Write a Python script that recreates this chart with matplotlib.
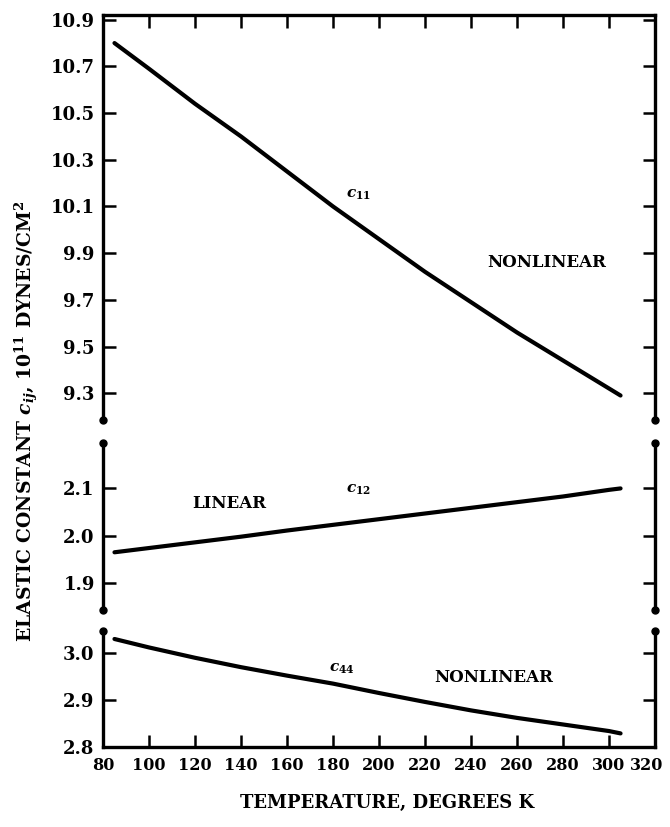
import numpy as np
import matplotlib
matplotlib.use("Agg")
from matplotlib import pyplot as plt
from matplotlib import transforms

plt.rcParams['font.family'] = ['DejaVu Serif']
plt.rcParams['font.weight'] = 'bold'
plt.rcParams['mathtext.fontset'] = 'dejavuserif'

# temperature (K) and elastic constants (10^11 dynes/cm^2)
temp = [85, 100, 120, 140, 160, 180, 200, 220, 240, 260, 280, 300, 305]
c11 = [10.80, 10.69, 10.54, 10.40, 10.25, 10.10, 9.96, 9.82, 9.69, 9.56, 9.44, 9.32, 9.29]
c12 = [1.965, 1.974, 1.986, 1.998, 2.011, 2.023, 2.035, 2.047, 2.059, 2.071, 2.083, 2.097, 2.100]
c44 = [3.030, 3.012, 2.990, 2.970, 2.952, 2.935, 2.915, 2.896, 2.878, 2.862, 2.848, 2.834, 2.829]

xticks = [80, 100, 120, 140, 160, 180, 200, 220, 240, 260, 280, 300, 320]
yticks_top = [9.3, 9.5, 9.7, 9.9, 10.1, 10.3, 10.5, 10.7, 10.9]
yticks_mid = [1.9, 2.0, 2.1]
yticks_bot = [2.8, 2.9, 3.0]

fig = plt.figure(figsize=(6.7, 8.27), dpi=100)
ax1 = fig.add_axes([0.1537, 0.4921, 0.824, 0.4897])
ax2 = fig.add_axes([0.1537, 0.2624, 0.824, 0.2019])
ax3 = fig.add_axes([0.1537, 0.0967, 0.824, 0.1403])

lw = 3.0
ax1.plot(temp, c11, color='k', lw=lw, solid_capstyle='round')
ax2.plot(temp, c12, color='k', lw=lw, solid_capstyle='round')
ax3.plot(temp, c44, color='k', lw=lw, solid_capstyle='round')

ax1.set_ylim(9.185, 10.92)
ax2.set_ylim(1.843, 2.196)
ax3.set_ylim(2.80, 3.047)

for ax in (ax1, ax2, ax3):
	ax.set_xlim(80, 320)
	for s in ax.spines.values():
		s.set_linewidth(2.4)
	ax.tick_params(axis='y', left=True, right=True, direction='in',
		length=9, width=1.8, labelsize=13, pad=6)

ax1.set_yticks(yticks_top)
ax1.set_yticklabels(["%.1f" % v for v in yticks_top])
ax2.set_yticks(yticks_mid)
ax2.set_yticklabels(["%.1f" % v for v in yticks_mid])
ax3.set_yticks(yticks_bot)
ax3.set_yticklabels(["%.1f" % v for v in yticks_bot])

# top panel: ticks along top spine only
ax1.spines['bottom'].set_visible(False)
ax1.set_xticks(xticks[1:-1])
ax1.tick_params(axis='x', top=True, bottom=False, labeltop=False, labelbottom=False,
	direction='in', length=9, width=1.8)

# middle panel: no horizontal spines
ax2.spines['top'].set_visible(False)
ax2.spines['bottom'].set_visible(False)
ax2.set_xticks([])

# bottom panel
ax3.spines['top'].set_visible(False)
ax3.set_xticks(xticks)
ax3.set_xticklabels([str(t) for t in xticks])
ax3.tick_params(axis='x', top=False, bottom=True, direction='in',
	length=9, width=1.8, labelsize=11.5, pad=7)
# pull the last label in a little so it stays on the page
last = ax3.get_xticklabels()[-1]
last.set_transform(last.get_transform() + transforms.ScaledTranslation(-6 / 72, 0, fig.dpi_scale_trans))

# break dots at the spine ends
dot = dict(marker='o', ms=5, color='k', ls='none', clip_on=False)
ax1.plot([0, 1], [0, 0], transform=ax1.transAxes, **dot)
ax2.plot([0, 1, 0, 1], [0, 0, 1, 1], transform=ax2.transAxes, **dot)
ax3.plot([0, 1], [1, 1], transform=ax3.transAxes, **dot)

# curve labels
ax1.text(191, 10.15, r'$c_{11}$', fontsize=11, ha='center', va='center')
ax1.text(273, 9.86, 'NONLINEAR', fontsize=12, ha='center', va='center')
ax2.text(135, 2.068, 'LINEAR', fontsize=12, ha='center', va='center')
ax2.text(191, 2.098, r'$c_{12}$', fontsize=11, ha='center', va='center')
ax3.text(184, 2.966, r'$c_{44}$', fontsize=11, ha='center', va='center')
ax3.text(250, 2.949, 'NONLINEAR', fontsize=12, ha='center', va='center')

fig.text(0.577, 0.029, 'TEMPERATURE, DEGREES K', fontsize=13, ha='center', va='center')
fig.text(0.04, 0.49, r'ELASTIC CONSTANT $c_{ij}$, 10$^{11}$ DYNES/CM$^2$',
	fontsize=13.5, rotation=90, ha='center', va='center')

fig.savefig('out.png', dpi=100)
